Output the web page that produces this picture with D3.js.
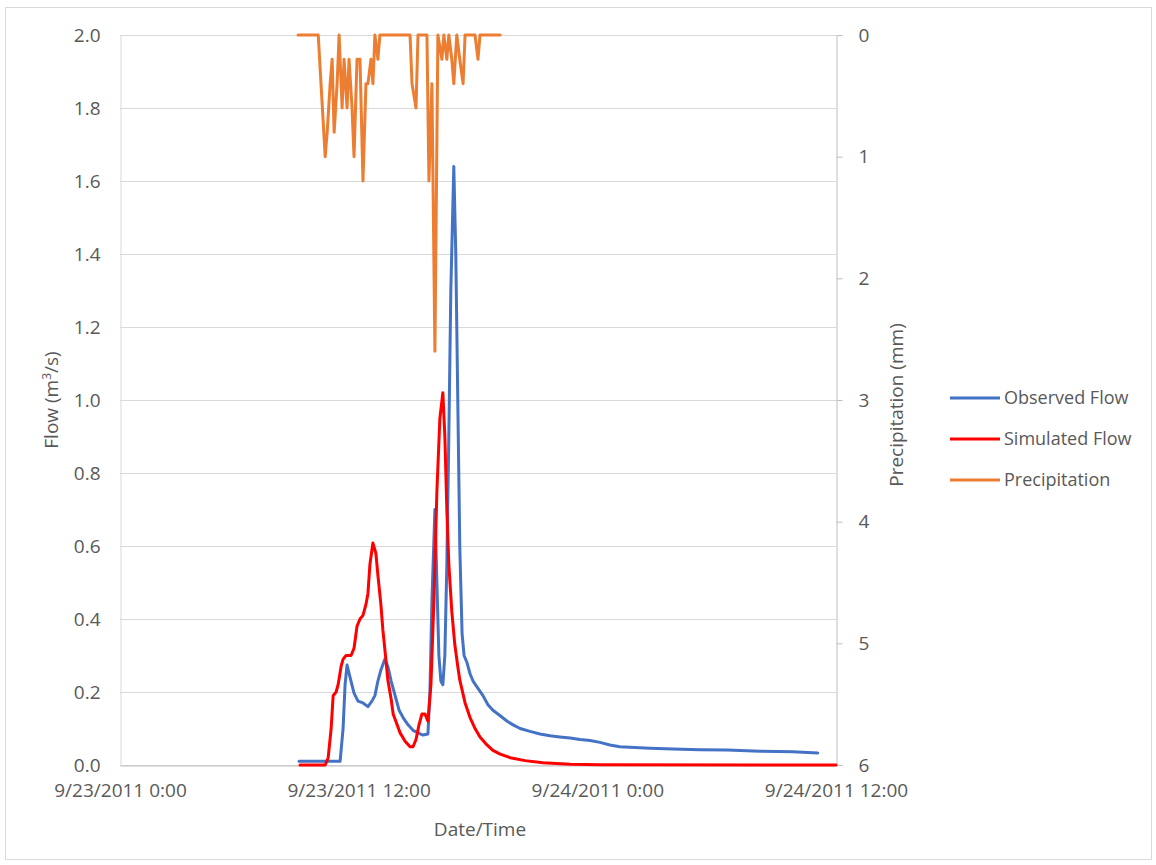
<!DOCTYPE html>
<html>
<head>
<meta charset="utf-8">
<script src="https://cdn.jsdelivr.net/npm/d3@7/dist/d3.min.js"></script>
<style>
  body { margin: 0; background: #fff; }
  text { font-family: "Open Sans", sans-serif; fill: #595959; }
</style>
</head>
<body>
<div id="chart"></div>
<script>
// hours after 9/23/2011 0:00, value
var observedFlow = [
  [9.00,0.01],[11.06,0.01],[11.21,0.10],[11.31,0.22],[11.41,0.274],[11.56,0.24],[11.77,0.197],
  [11.97,0.175],[12.22,0.17],[12.47,0.16],[12.67,0.175],[12.82,0.19],[12.97,0.23],[13.12,0.26],
  [13.32,0.29],[13.47,0.27],[13.63,0.23],[13.83,0.19],[14.03,0.15],[14.23,0.13],[14.48,0.11],
  [14.73,0.095],[14.98,0.088],[15.23,0.082],[15.49,0.085],[15.59,0.2],[15.69,0.45],[15.84,0.70],
  [15.94,0.50],[16.04,0.30],[16.14,0.23],[16.24,0.22],[16.34,0.30],[16.44,0.55],[16.54,0.9],
  [16.64,1.3],[16.79,1.64],[16.89,1.4],[16.99,1.0],[17.09,0.6],[17.20,0.36],[17.30,0.30],
  [17.45,0.28],[17.60,0.25],[17.75,0.23],[18.00,0.21],[18.25,0.19],[18.50,0.165],[18.75,0.15],
  [19.11,0.135],[19.46,0.12],[19.76,0.11],[20.11,0.10],[20.61,0.092],[21.12,0.085],[21.62,0.08],
  [22.12,0.077],[22.63,0.074],[23.13,0.07],[23.63,0.067],[24.13,0.062],[24.64,0.055],[25.14,0.05],
  [25.89,0.048],[26.65,0.046],[27.80,0.044],[29.16,0.042],[30.52,0.041],[32.18,0.038],
  [33.84,0.036],[35.09,0.033]
];

var simulatedFlow = [
  [9.05,0],[10.31,0],[10.46,0.02],[10.61,0.10],[10.71,0.19],[10.86,0.20],[10.96,0.22],[11.11,0.27],
  [11.21,0.29],[11.36,0.30],[11.61,0.30],[11.77,0.32],[11.92,0.38],[12.07,0.40],[12.22,0.41],
  [12.37,0.44],[12.47,0.47],[12.57,0.55],[12.72,0.608],[12.87,0.58],[12.97,0.52],[13.12,0.44],
  [13.22,0.37],[13.37,0.29],[13.47,0.233],[13.63,0.18],[13.73,0.14],[13.93,0.11],[14.08,0.088],
  [14.33,0.065],[14.58,0.05],[14.73,0.05],[14.88,0.07],[15.03,0.11],[15.18,0.14],[15.33,0.14],
  [15.49,0.12],[15.64,0.22],[15.79,0.45],[15.94,0.75],[16.09,0.95],[16.24,1.02],[16.34,0.9],
  [16.44,0.7],[16.54,0.55],[16.69,0.42],[16.84,0.33],[16.99,0.27],[17.09,0.233],[17.35,0.17],
  [17.60,0.13],[17.85,0.10],[18.10,0.077],[18.45,0.055],[18.75,0.04],[19.11,0.03],[19.61,0.02],
  [20.36,0.012],[21.27,0.006],[22.63,0.002],[24.13,0.001],[36.00,0]
];

var precipitation = [
  [8.95,0],[9.96,0],[10.31,1.0],[10.41,0.8],[10.56,0.4],[10.66,0.2],[10.76,0.8],[10.91,0.4],
  [11.01,0],[11.16,0.6],[11.26,0.2],[11.41,0.6],[11.51,0.2],[11.66,0.6],[11.77,1.0],[11.92,0.2],
  [12.07,0.2],[12.22,1.2],[12.37,0.4],[12.47,0.4],[12.62,0.2],[12.72,0.4],[12.82,0],[12.97,0.2],
  [13.07,0],[14.58,0],[14.68,0.4],[14.88,0.6],[14.98,0],[15.44,0],[15.54,1.2],[15.69,0.4],
  [15.84,2.6],[15.99,0],[16.19,0.2],[16.29,0],[16.44,0.2],[16.54,0],[16.69,0.2],[16.79,0.4],
  [16.94,0],[17.09,0.2],[17.25,0.4],[17.35,0],[17.85,0],[18.00,0.2],[18.10,0],[19.11,0]
];

var flowTicks = [0, 0.2, 0.4, 0.6, 0.8, 1.0, 1.2, 1.4, 1.6, 1.8, 2.0];
var precipTicks = [0, 1, 2, 3, 4, 5, 6];
var timeTicks = ["2011-09-23T00:00", "2011-09-23T12:00", "2011-09-24T00:00", "2011-09-24T12:00"];

var seriesNames = ["Observed Flow", "Simulated Flow", "Precipitation"];
var seriesColors = ["#4472C4", "#FF0000", "#ED7D31"];

var width = 1156;
var height = 865;
var plotLeft = 120, plotRight = 836, plotTop = 35, plotBottom = 765;

var svg = d3.select("#chart")
    .append("svg")
    .attr("width", width)
    .attr("height", height);

// chart area border
svg.append("rect")
    .attr("x", 5.5)
    .attr("y", 7.5)
    .attr("width", 1146)
    .attr("height", 852)
    .style("fill", "none")
    .style("stroke", "#d9d9d9");

var start = new Date(2011, 8, 23, 0, 0);
var parseT = d3.timeParse("%Y-%m-%dT%H:%M");
var toDate = function (h) { return d3.timeMinute.offset(start, Math.round(h * 60)); };

var x = d3.scaleTime()
    .domain([start, parseT("2011-09-24T12:00")])
    .range([plotLeft, plotRight]);
var y = d3.scaleLinear().domain([0, 2]).range([plotBottom, plotTop]);
var y2 = d3.scaleLinear().domain([0, 6]).range([plotTop, plotBottom]);

// gridlines
svg.append("g")
    .selectAll("line")
    .data(flowTicks)
    .enter().append("line")
    .attr("x1", plotLeft)
    .attr("x2", plotRight)
    .attr("y1", function (d) { return Math.round(y(d)) + 0.5; })
    .attr("y2", function (d) { return Math.round(y(d)) + 0.5; })
    .style("stroke", "#d9d9d9")
    .style("stroke-width", 1);

// left axis labels
var leftAxis = d3.axisLeft(y)
    .tickValues(flowTicks)
    .tickFormat(d3.format(".1f"))
    .tickSize(0)
    .tickPadding(20);
var gl = svg.append("g")
    .attr("transform", "translate(" + (plotLeft + 0.5) + ",0)")
    .call(leftAxis);
gl.select(".domain").style("stroke", "#d9d9d9");
gl.selectAll("text").style("font-size", "19px").style("fill", "#595959");

// right axis
var rightAxis = d3.axisRight(y2)
    .tickValues(precipTicks)
    .tickFormat(d3.format("d"))
    .tickSize(6)
    .tickPadding(16);
var gr = svg.append("g")
    .attr("transform", "translate(" + (plotRight + 0.5) + ",0)")
    .call(rightAxis);
gr.select(".domain").style("stroke", "#bfbfbf");
gr.selectAll(".tick line").style("stroke", "#bfbfbf");
gr.selectAll("text").style("font-size", "19px").style("fill", "#595959");

// bottom axis
var bottomAxis = d3.axisBottom(x)
    .tickValues(timeTicks.map(parseT))
    .tickFormat(d3.timeFormat("%-m/%-d/%Y %-H:%M"))
    .tickSize(0)
    .tickPadding(18);
var gb = svg.append("g")
    .attr("transform", "translate(0," + (plotBottom + 0.5) + ")")
    .call(bottomAxis);
gb.select(".domain").style("stroke", "#bfbfbf");
gb.selectAll("text").style("font-size", "19px").style("fill", "#595959");

// lines
var flowLine = d3.line()
    .x(function (d) { return x(toDate(d[0])); })
    .y(function (d) { return y(d[1]); });
var precipLine = d3.line()
    .x(function (d) { return x(toDate(d[0])); })
    .y(function (d) { return y2(d[1]); });

var lines = [
    { data: observedFlow, gen: flowLine, color: seriesColors[0] },
    { data: simulatedFlow, gen: flowLine, color: seriesColors[1] },
    { data: precipitation, gen: precipLine, color: seriesColors[2] }
];
lines.forEach(function (s) {
    svg.append("path")
        .datum(s.data)
        .attr("d", s.gen)
        .style("fill", "none")
        .style("stroke", s.color)
        .style("stroke-width", 3)
        .style("stroke-linejoin", "round")
        .style("stroke-linecap", "round");
});

// axis titles
var yTitle = svg.append("text")
    .attr("transform", "translate(58,400) rotate(-90)")
    .attr("text-anchor", "middle")
    .style("font-size", "19px");
yTitle.append("tspan").text("Flow (m");
yTitle.append("tspan").attr("dy", -7).style("font-size", "12px").text("3");
yTitle.append("tspan").attr("dy", 7).text("/s)");

svg.append("text")
    .attr("transform", "translate(903,405) rotate(-90)")
    .attr("text-anchor", "middle")
    .style("font-size", "19px")
    .text("Precipitation (mm)");

svg.append("text")
    .attr("x", 480)
    .attr("y", 836)
    .attr("text-anchor", "middle")
    .style("font-size", "19px")
    .text("Date/Time");

// legend
var legend = svg.append("g");
seriesNames.forEach(function (name, i) {
    var ly = 398 + i * 41;
    legend.append("line")
        .attr("x1", 950)
        .attr("x2", 1000)
        .attr("y1", ly)
        .attr("y2", ly)
        .style("stroke", seriesColors[i])
        .style("stroke-width", 3);
    legend.append("text")
        .attr("x", 1004)
        .attr("y", ly)
        .attr("dy", ".35em")
        .style("font-size", "18px")
        .text(name);
});
</script>
</body>
</html>
